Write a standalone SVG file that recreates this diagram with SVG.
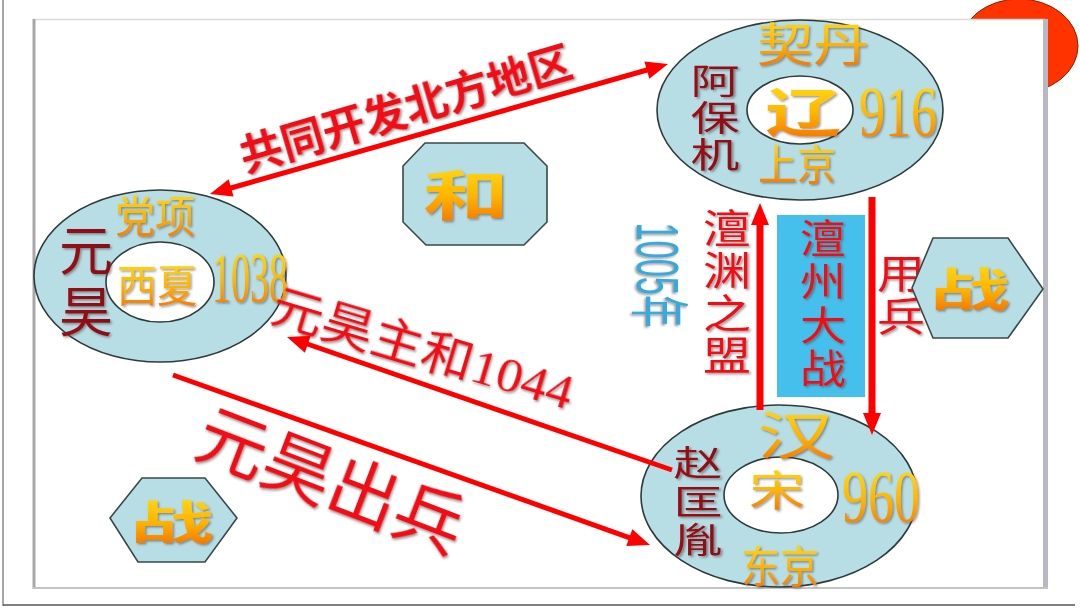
<svg xmlns="http://www.w3.org/2000/svg" width="1080" height="608" viewBox="0 0 1080 608">
<defs>
<linearGradient id="gold" x1="0" y1="0" x2="0" y2="1">
<stop offset="0" stop-color="#FFE81A"/>
<stop offset="0.55" stop-color="#FFB400"/>
<stop offset="1" stop-color="#F06400"/>
</linearGradient>
<linearGradient id="dred" x1="0" y1="0" x2="0" y2="1">
<stop offset="0" stop-color="#9A1018"/>
<stop offset="1" stop-color="#6E0610"/>
</linearGradient>
<filter id="sh" x="-20%" y="-20%" width="140%" height="140%">
<feDropShadow dx="1.5" dy="1.5" stdDeviation="0.8" flood-color="#444" flood-opacity="0.55"/>
</filter>
<marker id="ah" markerUnits="userSpaceOnUse" markerWidth="24" markerHeight="20" refX="2" refY="9" orient="auto-start-reverse" overflow="visible">
<path d="M0,0 L22,9 L0,18 Z" fill="#FF0000"/>
</marker>
<style>
.ring{fill:#B8DEE5;stroke:#2E3A3A;stroke-width:1.6}
.hole{fill:#FFFFFF;stroke:#2E3A3A;stroke-width:1.6}
.hex{fill:#B8DEE5;stroke:#3A4848;stroke-width:1.6}
.cjk{font-family:"Noto Sans CJK SC",sans-serif}
.gold{fill:url(#gold);filter:url(#sh)}
.num{font-family:"Liberation Serif","Noto Sans CJK SC",serif}
.dr{fill:url(#dred);filter:url(#sh);font-family:"Noto Sans CJK SC",sans-serif}
.red{fill:#F01018;font-family:"Noto Sans CJK SC",sans-serif}
.vt{writing-mode:vertical-rl}
.link{stroke:#FF0000;stroke-width:5;fill:none}
.vlink{stroke:#FF0000;stroke-width:7;fill:none}
</style>
</defs>

<g id="background">
<rect x="0" y="0" width="1080" height="608" fill="#FFFFFF"/>
<line x1="3" y1="0" x2="3" y2="606" stroke="#8A8A8A" stroke-width="1.5"/>
<line x1="3" y1="605" x2="1075" y2="605" stroke="#555" stroke-width="1.5"/>
<ellipse cx="1019" cy="46" rx="59" ry="47" fill="#FF3300" stroke="#8B2000" stroke-width="1"/>
<rect x="33" y="19" width="1012" height="569" fill="#FFFFFF"/>
<line x1="33" y1="19.5" x2="1045" y2="19.5" stroke="#DADADA" stroke-width="1.5"/>
<line x1="34" y1="19" x2="34" y2="589" stroke="#A8A8A8" stroke-width="3"/>
<line x1="1045.5" y1="19" x2="1045.5" y2="589" stroke="#B8B8C2" stroke-width="5"/>
<line x1="33" y1="588" x2="1048" y2="588" stroke="#C4C4C4" stroke-width="2"/>
</g>

<g id="liao">
<ellipse class="ring" cx="800" cy="110" rx="143" ry="90"/>
<ellipse class="hole" cx="800" cy="110" rx="53" ry="34"/>
<text class="cjk gold" x="813" y="61" font-size="46" text-anchor="middle" textLength="112" lengthAdjust="spacingAndGlyphs">契丹</text>
<text class="cjk gold" x="803" y="132" font-size="52" font-weight="700" text-anchor="middle" textLength="76" lengthAdjust="spacingAndGlyphs">辽</text>
<text class="num gold" x="859" y="136" font-size="72" textLength="78" lengthAdjust="spacingAndGlyphs">916</text>
<text class="cjk gold" x="797" y="180" font-size="42" text-anchor="middle" textLength="78" lengthAdjust="spacingAndGlyphs">上京</text>
<g transform="translate(715 0) scale(1.4 1)">
<text class="dr vt" x="0" y="63.5" font-size="35" letter-spacing="2">阿保机</text>
</g>
</g>

<g id="xia">
<ellipse class="ring" cx="160" cy="276" rx="126" ry="86"/>
<ellipse class="hole" cx="160" cy="282" rx="54" ry="40"/>
<text class="cjk gold" x="155" y="233" font-size="44" text-anchor="middle" textLength="80" lengthAdjust="spacingAndGlyphs">党项</text>
<text class="cjk gold" x="157" y="302" font-size="44" text-anchor="middle" textLength="80" lengthAdjust="spacingAndGlyphs">西夏</text>
<text class="num gold" x="212" y="302" font-size="72" textLength="76" lengthAdjust="spacingAndGlyphs">1038</text>
<text class="dr vt" x="86" y="223" font-size="54" letter-spacing="7">元昊</text>
</g>

<g id="song">
<ellipse class="ring" cx="779" cy="496" rx="138" ry="91"/>
<ellipse class="hole" cx="781" cy="495" rx="57" ry="38"/>
<text class="cjk gold" x="796" y="455" font-size="52" text-anchor="middle" textLength="78" lengthAdjust="spacingAndGlyphs">汉</text>
<text class="cjk gold" x="777" y="506" font-size="42" text-anchor="middle" textLength="56" lengthAdjust="spacingAndGlyphs">宋</text>
<text class="num gold" x="842" y="522" font-size="74" textLength="78" lengthAdjust="spacingAndGlyphs">960</text>
<text class="cjk gold" x="780" y="583" font-size="44" text-anchor="middle" textLength="78" lengthAdjust="spacingAndGlyphs">东京</text>
<g transform="translate(698 0) scale(1.4 1)">
<text class="dr vt" x="0" y="445.5" font-size="35" letter-spacing="3.5">赵匡胤</text>
</g>
</g>

<g id="he">
<polygon class="hex" points="425,143 524,143 547,166 547,222 524,245 426,245 403,222 403,166"/>
<text class="cjk gold" x="466" y="216" font-size="54" font-weight="700" text-anchor="middle" textLength="86" lengthAdjust="spacingAndGlyphs">和</text>
</g>

<g id="chanzhou">
<rect x="777" y="215" width="88" height="182" fill="#45C0EC"/>
<g transform="translate(823 0) scale(1.15 1)">
<text class="red vt" x="0" y="218" font-size="40" letter-spacing="3.3" filter="url(#sh)">澶州大战</text>
</g>
</g>

<g id="labels">
<text class="red" font-size="43" font-weight="700" text-anchor="middle" transform="translate(410 124) rotate(-16.4)" filter="url(#sh)">共同开发北方地区</text>
<text class="red" font-size="48" text-anchor="middle" textLength="312" lengthAdjust="spacingAndGlyphs" transform="translate(418 365) rotate(16.6)" style="font-family:'Liberation Serif','Noto Sans CJK SC',serif" filter="url(#sh)">元昊主和1044</text>
<text class="red" font-size="70" text-anchor="middle" transform="translate(322 505) rotate(21)" filter="url(#sh)">元昊出兵</text>
<g transform="translate(727 0) scale(1.2 1)">
<text class="red vt" x="0" y="208" font-size="40" letter-spacing="2.3" filter="url(#sh)">澶渊之盟</text>
</g>
<g transform="translate(901 0) scale(1.2 1)">
<text class="red vt" x="0" y="253" font-size="40" letter-spacing="3" filter="url(#sh)">用兵</text>
</g>
<text font-size="60" text-anchor="middle" textLength="105" lengthAdjust="spacingAndGlyphs" transform="translate(658 275) rotate(90)" y="21" fill="#3AA8DA" style="font-family:'Liberation Sans','Noto Sans CJK SC',sans-serif" filter="url(#sh)">1005年</text>
</g>

<g id="zhan-right">
<polygon class="hex" points="912,288 933,238 1008,238 1043,289 1008,338 933,338"/>
<text class="cjk gold" x="970" y="306" font-size="46" font-weight="700" text-anchor="middle" textLength="80" lengthAdjust="spacingAndGlyphs">战</text>
</g>

<g id="zhan-left">
<polygon class="hex" points="110,518 142,478 205,478 237,518 205,562 138,562"/>
<text class="cjk gold" x="172" y="539" font-size="46" font-weight="700" text-anchor="middle" textLength="84" lengthAdjust="spacingAndGlyphs">战</text>
</g>

<g id="connectors">
<line class="link" x1="229.2" y1="188.5" x2="648.8" y2="69.5" marker-start="url(#ah)" marker-end="url(#ah)"/>
<line class="link" x1="672" y1="470" x2="305.9" y2="343.5" marker-end="url(#ah)"/>
<line class="link" x1="173" y1="375" x2="631.2" y2="538.3" marker-end="url(#ah)"/>
<line class="vlink" x1="760" y1="410" x2="760" y2="223" marker-end="url(#ah)"/>
<line class="vlink" x1="872" y1="197" x2="872" y2="415" marker-end="url(#ah)"/>
</g>
</svg>
